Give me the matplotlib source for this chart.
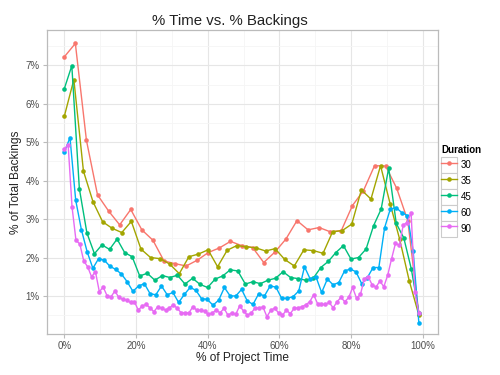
import numpy as np
import matplotlib
matplotlib.use("Agg")
import matplotlib.pyplot as plt
from matplotlib.legend_handler import HandlerLine2D
from matplotlib.patches import Rectangle
from matplotlib.ticker import FuncFormatter, MultipleLocator

plt.rcParams['font.family'] = ['Liberation Sans', 'DejaVu Sans']

durations = ["30", "35", "45", "60", "90"]
colors = ["#F8766D", "#A3A500", "#00BF7D", "#00B0F6", "#E76BF3"]
x_end = 98.9  # last point position in % of project time

backings_30 = [7.22, 7.57, 5.05, 3.63, 3.21, 2.85, 3.25, 2.72, 2.45, 1.91, 1.84, 1.78,
               1.93, 2.13, 2.25, 2.42, 2.31, 2.26, 1.87, 2.14, 2.48, 2.96, 2.72, 2.78,
               2.67, 2.70, 3.35, 3.74, 4.39, 4.38, 3.80, 2.96, 0.53]
backings_35 = [5.67, 6.63, 4.25, 3.45, 2.93, 2.76, 2.65, 2.94, 2.22, 2.00, 1.97, 1.83,
               1.58, 2.02, 2.09, 2.20, 1.76, 2.19, 2.31, 2.28, 2.25, 2.17, 2.23, 1.95,
               1.78, 2.20, 2.18, 2.11, 2.67, 2.70, 2.87, 3.76, 3.52, 4.39, 3.40, 2.47,
               1.39, 0.50]
backings_45 = [6.39, 6.99, 3.79, 2.64, 2.10, 2.33, 2.21, 2.48, 2.13, 2.02, 1.52, 1.59,
               1.41, 1.53, 1.48, 1.54, 1.31, 1.46, 1.30, 1.22, 1.44, 1.52, 1.68, 1.65,
               1.31, 1.37, 1.32, 1.41, 1.46, 1.63, 1.48, 1.45, 1.41, 1.46, 1.74, 1.90,
               2.13, 2.31, 1.96, 2.00, 2.22, 2.83, 3.26, 4.33, 2.89, 2.51, 1.70, 0.56]
backings_60 = [4.74, 5.12, 3.49, 2.72, 2.15, 1.72, 1.97, 1.93, 1.77, 1.69, 1.57, 1.37,
               1.12, 1.26, 1.32, 1.06, 1.03, 1.26, 1.03, 1.09, 0.83, 1.04, 1.22, 1.15,
               0.93, 0.91, 0.76, 0.89, 1.22, 1.00, 1.00, 1.17, 0.87, 0.78, 1.06, 1.00,
               1.26, 1.23, 0.94, 0.94, 0.98, 1.13, 1.76, 1.44, 1.50, 1.09, 1.44, 1.29,
               1.35, 1.65, 1.70, 1.63, 1.32, 1.48, 1.74, 1.74, 2.77, 3.26, 3.30, 3.17,
               3.09, 2.17, 0.30]
backings_90 = [4.83, 4.92, 3.31, 2.45, 2.35, 1.91, 1.76, 1.50, 1.63, 1.11, 1.23, 1.00,
               0.98, 1.13, 0.96, 0.91, 0.89, 0.83, 0.85, 0.63, 0.74, 0.78, 0.69, 0.59,
               0.72, 0.68, 0.63, 0.69, 0.77, 0.68, 0.56, 0.56, 0.56, 0.72, 0.63, 0.63,
               0.61, 0.52, 0.56, 0.63, 0.56, 0.68, 0.50, 0.56, 0.52, 0.74, 0.61, 0.50,
               0.56, 0.69, 0.69, 0.71, 0.46, 0.63, 0.68, 0.56, 0.50, 0.63, 0.54, 0.68,
               0.69, 0.72, 0.77, 0.85, 1.03, 0.80, 0.78, 0.78, 0.83, 0.69, 0.85, 0.96,
               0.85, 0.96, 1.22, 0.94, 1.04, 1.44, 1.50, 1.29, 1.23, 1.39, 1.24, 1.54,
               1.97, 2.37, 2.32, 2.85, 2.91, 3.17, 1.09, 0.55]
series = [backings_30, backings_35, backings_45, backings_60, backings_90]

x_ticks = [0, 20, 40, 60, 80, 100]
y_ticks = [1, 2, 3, 4, 5, 6, 7]

W, H = 500, 375
fig = plt.figure(figsize=(W / 100, H / 100), dpi=100)
ax = fig.add_axes([46.7 / W, 1 - 334 / H, (437.7 - 46.7) / W, (334 - 30) / H])

for name, col, vals in zip(durations, colors, series):
    xs = np.linspace(0, x_end, len(vals))
    ax.plot(xs, vals, color=col, lw=1.0, marker='o', markersize=3.3,
            markeredgewidth=0, label=name, zorder=3)

ax.set_xlim(-4.9, 104.15)
ax.set_ylim(0.01, 7.92)
ax.set_xticks(x_ticks)
ax.set_yticks(y_ticks)
ax.xaxis.set_minor_locator(MultipleLocator(10))
ax.yaxis.set_minor_locator(MultipleLocator(0.5))
ax.xaxis.set_major_formatter(FuncFormatter(lambda v, p: f"{v:.0f}%"))
ax.yaxis.set_major_formatter(FuncFormatter(lambda v, p: f"{v:.0f}%"))
ax.grid(which='major', color='#E6E6E6', lw=0.8)
ax.grid(which='minor', color='#F5F5F5', lw=0.6)
ax.set_axisbelow(True)
for s in ax.spines.values():
    s.set_color('#BBBBBB')
    s.set_linewidth(0.9)
ax.tick_params(which='major', length=3, color='#BBBBBB', labelsize=7,
               labelcolor='#4D4D4D', pad=2)
ax.tick_params(which='minor', length=0)

ax.set_xlabel("% of Project Time", fontsize=8.6, color='#222222', labelpad=1)
ax.set_ylabel("% of Total Backings", fontsize=8.6, color='#222222', labelpad=2.5)
fig.text(230 / W, 1 - 21 / H, "% Time vs. % Backings", fontsize=10.8,
         ha='center', va='center', color='#222222')


class BoxedHandler(HandlerLine2D):
    def create_artists(self, legend, orig_handle, xdescent, ydescent, width,
                       height, fontsize, trans):
        arts = super().create_artists(legend, orig_handle, xdescent, ydescent,
                                      width, height, fontsize, trans)
        rect = Rectangle((-xdescent, -ydescent), width, height, fill=True,
                         fc='white', ec='#CCCCCC', lw=0.8, transform=trans)
        return [rect] + arts


handles, labels = ax.get_legend_handles_labels()
leg = fig.legend(handles, labels, title="Duration", loc='upper left',
                 bbox_to_anchor=(441 / W, 1 - 145 / H), frameon=False,
                 fontsize=7, title_fontproperties={'weight': 'bold', 'size': 7},
                 handlelength=1.6, handleheight=2.15, labelspacing=0,
                 handletextpad=0.45, borderpad=0, borderaxespad=0,
                 alignment='left', markerscale=1.0,
                 handler_map={matplotlib.lines.Line2D: BoxedHandler()})
leg._legend_box.sep = 1.5

fig.savefig("out.png", dpi=100, facecolor='white')
